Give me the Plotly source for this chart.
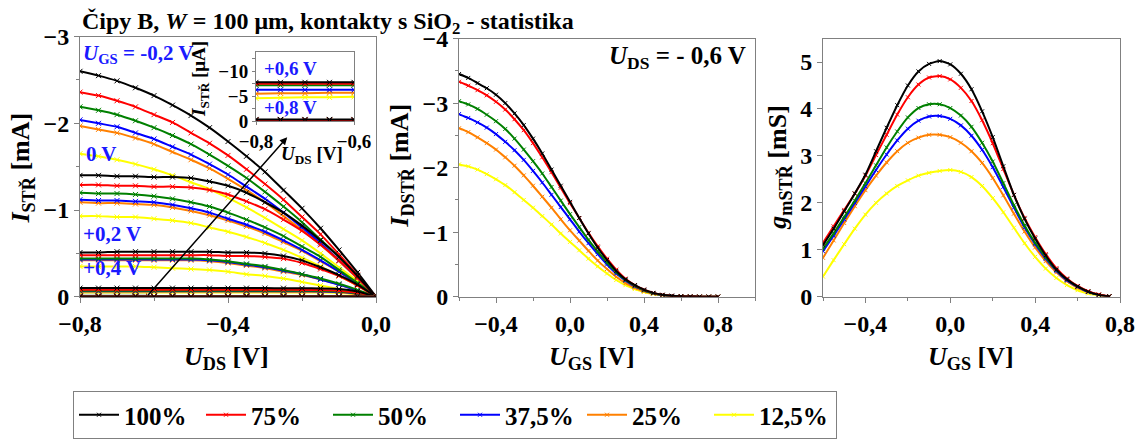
import plotly.graph_objects as go

FONT = "Liberation Serif, Times New Roman, serif"
W, H = 1146, 439

SERIES = ["100%", "75%", "50%", "37,5%", "25%", "12,5%"]
COLORS = ["#000000", "#FF0000", "#008000", "#0000FF", "#FF8000", "#FFFF00"]

# ---- Left panel: output characteristics, I_STR [mA] vs U_DS [V] ----
UDS = [-0.80, -0.75, -0.70, -0.65, -0.60, -0.55, -0.50, -0.45, -0.40,
       -0.35, -0.30, -0.25, -0.20, -0.15, -0.10, -0.05, 0.00]

# order of inner lists: 100%, 75%, 50%, 37,5%, 25%, 12,5%
I_UGS_M02 = [
    [-2.60, -2.55, -2.49, -2.41, -2.32, -2.21, -2.09, -1.95, -1.79, -1.62, -1.44, -1.23, -1.02, -0.79, -0.54, -0.28, 0],
    [-2.36, -2.32, -2.26, -2.19, -2.10, -2.01, -1.89, -1.77, -1.63, -1.47, -1.30, -1.12, -0.92, -0.72, -0.49, -0.25, 0],
    [-2.19, -2.15, -2.10, -2.03, -1.95, -1.86, -1.76, -1.64, -1.51, -1.37, -1.21, -1.04, -0.86, -0.66, -0.46, -0.23, 0],
    [-2.04, -2.00, -1.96, -1.89, -1.82, -1.73, -1.64, -1.53, -1.41, -1.27, -1.13, -0.97, -0.80, -0.62, -0.42, -0.22, 0],
    [-1.97, -1.93, -1.89, -1.83, -1.76, -1.67, -1.58, -1.48, -1.36, -1.23, -1.09, -0.93, -0.77, -0.60, -0.41, -0.21, 0],
    [-1.65, -1.62, -1.58, -1.53, -1.47, -1.40, -1.32, -1.24, -1.14, -1.03, -0.91, -0.78, -0.65, -0.50, -0.34, -0.18, 0],
]
I_UGS_0 = [
    [-1.40, -1.40, -1.39, -1.39, -1.38, -1.38, -1.37, -1.33, -1.28, -1.20, -1.09, -0.97, -0.82, -0.65, -0.46, -0.24, 0],
    [-1.29, -1.29, -1.28, -1.28, -1.27, -1.27, -1.26, -1.23, -1.18, -1.10, -1.01, -0.89, -0.76, -0.60, -0.42, -0.22, 0],
    [-1.20, -1.19, -1.19, -1.18, -1.16, -1.13, -1.09, -1.04, -0.97, -0.89, -0.80, -0.70, -0.58, -0.46, -0.31, -0.16, 0],
    [-1.12, -1.11, -1.11, -1.10, -1.09, -1.06, -1.02, -0.97, -0.90, -0.83, -0.75, -0.65, -0.54, -0.42, -0.29, -0.15, 0],
    [-1.09, -1.08, -1.08, -1.07, -1.06, -1.03, -0.99, -0.94, -0.88, -0.81, -0.73, -0.63, -0.53, -0.41, -0.29, -0.15, 0],
    [-0.93, -0.93, -0.92, -0.92, -0.90, -0.88, -0.85, -0.80, -0.75, -0.69, -0.62, -0.54, -0.45, -0.35, -0.24, -0.13, 0],
]
I_UGS_02 = [
    [-0.51, -0.51, -0.52, -0.52, -0.52, -0.52, -0.52, -0.52, -0.51, -0.51, -0.50, -0.47, -0.42, -0.34, -0.25, -0.14, 0],
    [-0.48, -0.48, -0.48, -0.48, -0.48, -0.48, -0.48, -0.48, -0.47, -0.47, -0.46, -0.44, -0.39, -0.32, -0.24, -0.13, 0],
    [-0.44, -0.44, -0.44, -0.44, -0.44, -0.44, -0.44, -0.43, -0.41, -0.38, -0.35, -0.31, -0.26, -0.21, -0.15, -0.08, 0],
    [-0.43, -0.43, -0.43, -0.43, -0.43, -0.43, -0.43, -0.42, -0.40, -0.37, -0.34, -0.30, -0.26, -0.20, -0.14, -0.07, 0],
    [-0.42, -0.42, -0.42, -0.42, -0.42, -0.42, -0.42, -0.41, -0.39, -0.36, -0.33, -0.29, -0.25, -0.20, -0.14, -0.07, 0],
    [-0.35, -0.35, -0.35, -0.35, -0.34, -0.33, -0.32, -0.31, -0.29, -0.26, -0.24, -0.21, -0.17, -0.13, -0.09, -0.05, 0],
]
I_UGS_04 = [
    [-0.100, -0.100, -0.100, -0.100, -0.100, -0.100, -0.100, -0.100, -0.100, -0.100, -0.100, -0.099, -0.098, -0.096, -0.090, -0.060, 0],
    [-0.080, -0.080, -0.080, -0.080, -0.080, -0.080, -0.080, -0.080, -0.080, -0.080, -0.080, -0.080, -0.079, -0.077, -0.070, -0.045, 0],
    [-0.070, -0.070, -0.070, -0.070, -0.070, -0.070, -0.070, -0.070, -0.070, -0.070, -0.070, -0.070, -0.069, -0.067, -0.062, -0.039, 0],
    [-0.065, -0.065, -0.065, -0.065, -0.065, -0.065, -0.065, -0.065, -0.065, -0.065, -0.065, -0.064, -0.064, -0.062, -0.058, -0.036, 0],
    [-0.060, -0.060, -0.060, -0.060, -0.060, -0.060, -0.060, -0.060, -0.060, -0.060, -0.060, -0.059, -0.059, -0.057, -0.053, -0.033, 0],
    [-0.050, -0.050, -0.050, -0.050, -0.050, -0.050, -0.050, -0.050, -0.050, -0.050, -0.050, -0.049, -0.049, -0.048, -0.044, -0.028, 0],
]
I_UGS_06 = [
    [-0.0078, -0.0078, -0.0078, -0.0078, -0.0078, -0.0078, -0.0078, -0.0078, -0.0078, -0.0078, -0.0078, -0.0078, -0.0077, -0.0077, -0.0075, -0.0058, 0],
    [-0.0075, -0.0075, -0.0075, -0.0075, -0.0075, -0.0075, -0.0075, -0.0075, -0.0075, -0.0075, -0.0075, -0.0075, -0.0074, -0.0074, -0.0072, -0.0056, 0],
    [-0.0072, -0.0072, -0.0072, -0.0072, -0.0072, -0.0072, -0.0072, -0.0072, -0.0072, -0.0072, -0.0072, -0.0072, -0.0071, -0.0071, -0.0069, -0.0054, 0],
    [-0.0063, -0.0063, -0.0063, -0.0063, -0.0063, -0.0063, -0.0063, -0.0063, -0.0063, -0.0063, -0.0063, -0.0063, -0.0062, -0.0062, -0.0060, -0.0047, 0],
    [-0.0055, -0.0056, -0.0056, -0.0057, -0.0057, -0.0057, -0.0057, -0.0057, -0.0057, -0.0057, -0.0057, -0.0056, -0.0056, -0.0055, -0.0054, -0.0042, 0],
    [-0.0046, -0.0047, -0.0048, -0.0048, -0.0049, -0.0049, -0.0049, -0.0049, -0.0049, -0.0049, -0.0049, -0.0048, -0.0048, -0.0047, -0.0046, -0.0036, 0],
]
I_UGS_08 = [
    [-0.0004, -0.0004, -0.0004, -0.0004, -0.0004, -0.0004, -0.0004, -0.0004, -0.0004, -0.0004, -0.0004, -0.0004, -0.0004, -0.0004, -0.0004, -0.0003, 0],
    [-0.0003, -0.0003, -0.0003, -0.0003, -0.0003, -0.0003, -0.0003, -0.0003, -0.0003, -0.0003, -0.0003, -0.0003, -0.0003, -0.0003, -0.0003, -0.0002, 0],
    [-0.0003, -0.0003, -0.0003, -0.0003, -0.0003, -0.0003, -0.0003, -0.0003, -0.0003, -0.0003, -0.0003, -0.0003, -0.0003, -0.0003, -0.0003, -0.0002, 0],
    [-0.0002, -0.0002, -0.0002, -0.0002, -0.0002, -0.0002, -0.0002, -0.0002, -0.0002, -0.0002, -0.0002, -0.0002, -0.0002, -0.0002, -0.0002, -0.0001, 0],
    [-0.0002, -0.0002, -0.0002, -0.0002, -0.0002, -0.0002, -0.0002, -0.0002, -0.0002, -0.0002, -0.0002, -0.0002, -0.0002, -0.0002, -0.0002, -0.0001, 0],
    [-0.0001, -0.0001, -0.0001, -0.0001, -0.0001, -0.0001, -0.0001, -0.0001, -0.0001, -0.0001, -0.0001, -0.0001, -0.0001, -0.0001, -0.0001, -0.0001, 0],
]
OUTPUT_GROUPS = [I_UGS_M02, I_UGS_0, I_UGS_02, I_UGS_04, I_UGS_06, I_UGS_08]
INSET_GROUPS = [I_UGS_06, I_UGS_08]

# ---- Middle panel: transfer characteristics at U_DS = -0.6 V ----
UGS_T = [-0.60, -0.55, -0.50, -0.45, -0.40, -0.35, -0.30, -0.25, -0.20, -0.15,
         -0.10, -0.05, 0.00, 0.05, 0.10, 0.15, 0.20, 0.25, 0.30, 0.35,
         0.40, 0.45, 0.50, 0.55, 0.60, 0.65, 0.70, 0.75, 0.80]
ID_T = [
    [-3.45, -3.39, -3.31, -3.23, -3.13, -3.00, -2.84, -2.66, -2.45, -2.22, -1.97, -1.72, -1.47, -1.22, -0.98, -0.76, -0.57, -0.40, -0.27, -0.18, -0.11, -0.06, -0.03, -0.015, -0.008, -0.004, -0.002, -0.001, -0.001],
    [-3.33, -3.27, -3.20, -3.12, -3.02, -2.90, -2.75, -2.58, -2.38, -2.16, -1.93, -1.69, -1.45, -1.22, -0.99, -0.78, -0.59, -0.42, -0.28, -0.18, -0.11, -0.06, -0.03, -0.015, -0.008, -0.004, -0.002, -0.001, -0.001],
    [-3.03, -2.98, -2.91, -2.82, -2.72, -2.60, -2.45, -2.28, -2.10, -1.91, -1.70, -1.49, -1.28, -1.08, -0.88, -0.70, -0.53, -0.38, -0.26, -0.17, -0.10, -0.055, -0.028, -0.014, -0.007, -0.004, -0.002, -0.001, -0.001],
    [-2.83, -2.77, -2.70, -2.62, -2.52, -2.40, -2.27, -2.12, -1.95, -1.77, -1.58, -1.39, -1.20, -1.01, -0.83, -0.66, -0.50, -0.36, -0.25, -0.16, -0.10, -0.055, -0.028, -0.014, -0.007, -0.004, -0.002, -0.001, -0.001],
    [-2.61, -2.55, -2.47, -2.38, -2.28, -2.16, -2.03, -1.88, -1.72, -1.55, -1.38, -1.20, -1.03, -0.87, -0.71, -0.56, -0.43, -0.31, -0.21, -0.14, -0.085, -0.048, -0.025, -0.012, -0.006, -0.003, -0.002, -0.001, -0.001],
    [-2.05, -2.02, -1.97, -1.90, -1.82, -1.73, -1.62, -1.50, -1.38, -1.25, -1.12, -0.98, -0.85, -0.72, -0.59, -0.47, -0.36, -0.26, -0.18, -0.12, -0.075, -0.042, -0.022, -0.011, -0.006, -0.003, -0.002, -0.001, -0.001],
]

# ---- Right panel: transconductance g_m [mS] ----
UGS_G = [-0.60, -0.55, -0.50, -0.45, -0.40, -0.35, -0.30, -0.25, -0.20, -0.15,
         -0.10, -0.05, 0.00, 0.05, 0.10, 0.15, 0.20, 0.25, 0.30, 0.35,
         0.40, 0.45, 0.50, 0.55, 0.60, 0.65, 0.70, 0.75]
GM = [
    [1.10, 1.45, 1.82, 2.20, 2.60, 3.10, 3.60, 4.08, 4.50, 4.80, 4.96, 5.02, 4.95, 4.75, 4.42, 3.95, 3.40, 2.78, 2.17, 1.66, 1.24, 0.88, 0.58, 0.37, 0.22, 0.11, 0.04, 0.01],
    [1.15, 1.50, 1.85, 2.20, 2.58, 3.02, 3.45, 3.88, 4.25, 4.52, 4.67, 4.70, 4.63, 4.45, 4.17, 3.76, 3.27, 2.72, 2.17, 1.68, 1.27, 0.91, 0.61, 0.39, 0.23, 0.12, 0.05, 0.01],
    [1.02, 1.35, 1.70, 2.05, 2.42, 2.80, 3.18, 3.52, 3.82, 4.02, 4.10, 4.10, 4.02, 3.86, 3.62, 3.28, 2.88, 2.42, 1.95, 1.52, 1.15, 0.84, 0.57, 0.37, 0.22, 0.11, 0.04, 0.01],
    [0.97, 1.30, 1.65, 2.00, 2.35, 2.70, 3.03, 3.33, 3.58, 3.75, 3.84, 3.85, 3.79, 3.65, 3.43, 3.13, 2.76, 2.34, 1.90, 1.48, 1.12, 0.81, 0.55, 0.35, 0.21, 0.10, 0.04, 0.01],
    [0.83, 1.20, 1.57, 1.93, 2.27, 2.58, 2.86, 3.10, 3.28, 3.39, 3.45, 3.45, 3.40, 3.28, 3.10, 2.85, 2.53, 2.16, 1.77, 1.39, 1.05, 0.76, 0.52, 0.33, 0.19, 0.10, 0.04, 0.01],
    [0.43, 0.78, 1.12, 1.45, 1.75, 2.00, 2.20, 2.36, 2.48, 2.58, 2.64, 2.68, 2.70, 2.66, 2.55, 2.36, 2.10, 1.80, 1.47, 1.14, 0.85, 0.60, 0.40, 0.25, 0.14, 0.07, 0.03, 0.01],
]

# tick labels
X_LEFT_TICKS = [-0.8, -0.4, 0.0]
X_LEFT_TEXT = ["\u22120,8", "\u22120,4", "0,0"]
Y_LEFT_TICKS = [0, -1, -2, -3]
Y_LEFT_TEXT = ["0", "\u22121", "\u22122", "\u22123"]
X_GS_TICKS = [-0.4, 0.0, 0.4, 0.8]
X_GS_TEXT = ["\u22120,4", "0,0", "0,4", "0,8"]
Y_MID_TICKS = [0, -1, -2, -3, -4]
Y_MID_TEXT = ["0", "\u22121", "\u22122", "\u22123", "\u22124"]
Y_GM_TICKS = [0, 1, 2, 3, 4, 5]
Y_GM_TEXT = ["0", "1", "2", "3", "4", "5"]
X_IN_TICKS = [-0.8, -0.6]
X_IN_TEXT = ["\u22120,8", "\u22120,6"]
Y_IN_TICKS = [0, -0.005, -0.010]
Y_IN_TEXT = ["0", "\u22125", "\u221210"]


def fx(x):
    return x / W


def fy(y):
    return 1 - y / H


fig = go.Figure()
ORDER = [5, 4, 3, 2, 1, 0]  # draw black last (on top)


def add(xv, yv, i, xa, ya, legend=False, msize=5):
    fig.add_trace(go.Scatter(
        x=xv, y=yv, mode="lines+markers", name=SERIES[i],
        line=dict(color=COLORS[i], width=2, shape="spline", smoothing=0.6),
        marker=dict(symbol="x-thin", size=msize, color=COLORS[i],
                    line=dict(width=1, color=COLORS[i])),
        xaxis=xa, yaxis=ya, showlegend=legend, legendgroup=SERIES[i],
        legendrank=i,
    ))


for grp in OUTPUT_GROUPS:
    for i in ORDER:
        add(UDS, grp[i], i, "x", "y")
for grp in INSET_GROUPS:
    for i in ORDER:
        add(UDS, grp[i], i, "x4", "y4")
for i in ORDER:
    add(UGS_T, ID_T[i], i, "x2", "y2", legend=True, msize=4)
for i in ORDER:
    add(UGS_G, GM[i], i, "x3", "y3", msize=4)

AX = "#808080"
TICKF = dict(family=FONT, size=24, color="black", weight="bold")
INF = dict(family=FONT, size=19, color="black", weight="bold")


def axis(domain, rng, tv, tt, anchor, minor=None, font=TICKF, ticklen=5):
    d = dict(domain=domain, range=rng, tickmode="array", tickvals=tv, ticktext=tt,
             showline=True, linecolor=AX, linewidth=1, mirror=True,
             ticks="outside", tickcolor=AX, ticklen=ticklen, tickwidth=1,
             showgrid=False, zeroline=False, tickfont=font, anchor=anchor,
             automargin=False)
    if minor is not None:
        d["minor"] = dict(dtick=minor, ticks="outside", ticklen=3, tickcolor=AX, showgrid=False)
    return d


fig.update_layout(
    width=W, height=H, margin=dict(l=0, r=0, t=0, b=0),
    paper_bgcolor="white", plot_bgcolor="white",
    xaxis=axis([fx(80), fx(376)], [-0.8, 0.0], X_LEFT_TICKS, X_LEFT_TEXT, "y", minor=0.2),
    yaxis=axis([fy(308), fy(38)], [0, -3], Y_LEFT_TICKS, Y_LEFT_TEXT, "x", minor=0.5),
    xaxis2=axis([fx(459), fx(755)], [-0.6, 1.0], X_GS_TICKS, X_GS_TEXT, "y2", minor=0.2),
    yaxis2=axis([fy(308), fy(40)], [0, -4], Y_MID_TICKS, Y_MID_TEXT, "x2", minor=0.5),
    xaxis3=axis([fx(823), fx(1120)], [-0.6, 0.8], X_GS_TICKS, X_GS_TEXT, "y3", minor=0.2),
    yaxis3=axis([fy(308), fy(40)], [0, 5.5], Y_GM_TICKS, Y_GM_TEXT, "x3"),
    xaxis4=axis([fx(256), fx(354)], [-0.8, -0.6], X_IN_TICKS, X_IN_TEXT, "y4",
                font=INF, ticklen=3),
    yaxis4=axis([fy(126), fy(54)], [0, -0.01385], Y_IN_TICKS, Y_IN_TEXT, "x4",
                minor=0.0025, font=INF, ticklen=3),
    legend=dict(orientation="h", x=fx(73), xanchor="left", y=fy(406), yanchor="top",
                bordercolor=AX, borderwidth=1, bgcolor="white",
                font=dict(family=FONT, size=25, color="black", weight="bold"),
                itemwidth=40, traceorder="normal", entrywidth=72, entrywidthmode="pixels"),
    showlegend=True,
)

# zoom rectangle and arrow in left panel
fig.add_shape(type="rect", xref="x", yref="y", x0=-0.8, x1=-0.62, y0=0, y1=-0.07,
              fillcolor="#d9d9d9", line=dict(color="#8b1a1a", width=1), layer="below")

ann = []
ann.append(dict(x=-0.24, y=-1.84, ax=-0.62, ay=0, xref="x", yref="y", axref="x", ayref="y",
                showarrow=True, arrowhead=2, arrowsize=1, arrowwidth=1.5, arrowcolor="black", text=""))


def text(x, y, s, size, color="black", xanchor="center", angle=0):
    ann.append(dict(x=fx(x), y=fy(y), xref="paper", yref="paper", text=s, showarrow=False,
                    xanchor=xanchor, yanchor="middle", textangle=angle,
                    font=dict(family=FONT, size=size, color=color, weight="bold")))


BLUE = "#1a1aff"
text(80, 24, "Čipy B, <i>W</i> = 100 μm, kontakty s SiO<sub>2</sub> - statistika", 24, xanchor="left")
text(81, 56, "<i>U</i><sub>GS</sub> = -0,2 V", 21, BLUE, "left")
text(84, 160, "0 V", 21, BLUE, "left")
text(81, 243, "+0,2 V", 21, BLUE, "left")
text(81, 278, "+0,4 V", 21, BLUE, "left")
text(262, 71, "+0,6 V", 19, BLUE, "left")
text(262, 112, "+0,8 V", 19, BLUE, "left")
text(748, 60, "<i>U</i><sub>DS</sub> = - 0,6 V", 25, "black", "right")

# axis titles
text(22, 175, "<i>I</i><sub>STŘ</sub> [mA]", 26, angle=-90)
text(226, 372, "<i>U</i><sub>DS</sub> [V]", 26)
text(401, 172, "<i>I</i><sub>DSTŘ</sub> [mA]", 26, angle=-90)
text(592, 372, "<i>U</i><sub>GS</sub> [V]", 26)
text(779, 174, "<i>g</i><sub>mSTŘ</sub> [mS]", 26, angle=-90)
text(971, 372, "<i>U</i><sub>GS</sub> [V]", 26)
text(200, 82, "<i>I</i><sub>STŘ</sub> [μA]", 19, angle=-90)
text(312, 161, "<i>U</i><sub>DS</sub> [V]", 19)

fig.update_layout(annotations=ann)
fig.write_html("out.html", config={"displayModeBar": False},
               post_script="document.body.style.margin='0px';document.body.style.padding='0px';")
